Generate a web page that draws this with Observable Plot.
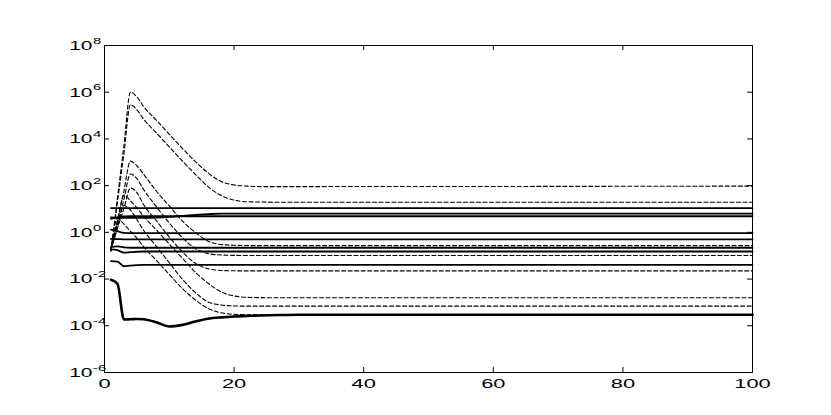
<!DOCTYPE html>
<html><head><meta charset="utf-8">
<script src="https://cdn.jsdelivr.net/npm/d3@7"></script>
<script src="https://cdn.jsdelivr.net/npm/@observablehq/plot@0.6"></script>
<style>html,body{margin:0;padding:0;background:#fff}</style>
</head><body><div id="chart"></div>
<script>
// x sample positions shared by all series
const xs = [1, 2, 3, 4, 5, 6, 8, 10, 12, 14, 16, 18, 20, 22, 24, 27, 30, 100];

// dashed series, values given as log10(y)
const dash1 = [-0.80, 1.47, 3.73, 6.00, 5.80, 5.40, 4.80, 4.20, 3.60, 3.04, 2.54, 2.18, 2.03, 1.98, 1.96, 1.96, 1.96, 1.98];
const dash2 = [-0.80, 1.29, 3.37, 5.46, 5.25, 4.86, 4.26, 3.66, 3.06, 2.49, 1.95, 1.58, 1.38, 1.31, 1.30, 1.29, 1.29, 1.29];
const dash3 = [-0.75, 0.52, 1.78, 3.05, 2.85, 2.50, 1.77, 1.13, 0.49, 0.00, -0.38, -0.52, -0.55, -0.565, -0.57, -0.57, -0.57, -0.57];
const dash4 = [-0.75, 0.33, 1.42, 2.50, 2.30, 1.85, 1.10, 0.40, -0.22, -0.69, -0.91, -0.97, -0.985, -0.99, -0.99, -0.99, -0.99, -0.99];
const dash5 = [-0.70, 0.17, 1.03, 1.90, 1.70, 1.20, 0.50, -0.20, -0.83, -1.32, -1.56, -1.63, -1.645, -1.65, -1.65, -1.65, -1.65, -1.65];
const dash6 = [-0.70, 0.45, 1.60, 1.35, 1.05, 0.70, 0.10, -0.50, -1.10, -1.70, -2.18, -2.55, -2.72, -2.78, -2.795, -2.80, -2.80, -2.80];
const dash7 = [-0.75, 0.20, 1.15, 0.95, 0.55, 0.10, -0.60, -1.30, -2.00, -2.57, -2.98, -3.11, -3.15, -3.16, -3.16, -3.16, -3.16, -3.16];
const dash8 = [-0.80, 0.60, 0.35, 0.05, -0.25, -0.60, -1.20, -1.80, -2.40, -2.89, -3.26, -3.445, -3.507, -3.525, -3.53, -3.53, -3.53, -3.53];

// solid series, values given as log10(y)
const solid1 = [1.04, 1.04, 1.04, 1.04, 1.04, 1.04, 1.04, 1.04, 1.04, 1.04, 1.04, 1.04, 1.04, 1.04, 1.04, 1.04, 1.04, 1.04];
const solid2 = [0.64, 0.62, 0.62, 0.62, 0.62, 0.62, 0.63, 0.66, 0.71, 0.75, 0.78, 0.80, 0.80, 0.80, 0.80, 0.80, 0.80, 0.80];
const solid3 = [0.58, 0.64, 0.68, 0.69, 0.69, 0.69, 0.69, 0.69, 0.69, 0.69, 0.69, 0.69, 0.69, 0.69, 0.69, 0.69, 0.69, 0.69];
const solid4 = [0.12, 0.05, -0.02, -0.03, -0.03, -0.03, -0.03, -0.03, -0.03, -0.03, -0.03, -0.03, -0.03, -0.03, -0.03, -0.03, -0.03, -0.03];
const solid5 = [-0.28, -0.29, -0.30, -0.30, -0.30, -0.30, -0.30, -0.30, -0.30, -0.30, -0.30, -0.30, -0.30, -0.30, -0.30, -0.30, -0.30, -0.30];
const solid6 = [-0.62, -0.60, -0.64, -0.66, -0.66, -0.66, -0.66, -0.66, -0.66, -0.66, -0.66, -0.66, -0.66, -0.66, -0.66, -0.66, -0.66, -0.66];
const solid7 = [-0.73, -0.76, -0.87, -0.85, -0.83, -0.82, -0.82, -0.82, -0.82, -0.82, -0.82, -0.82, -0.82, -0.82, -0.82, -0.82, -0.82, -0.82];
const solid8 = [-1.23, -1.25, -1.45, -1.42, -1.40, -1.39, -1.39, -1.39, -1.39, -1.39, -1.39, -1.39, -1.39, -1.39, -1.39, -1.39, -1.39, -1.39];
const solidLow = [-2.03, -2.20, -3.73, -3.72, -3.71, -3.72, -3.85, -4.03, -3.96, -3.82, -3.70, -3.64, -3.60, -3.58, -3.56, -3.54, -3.53, -3.53];

const xTicks = [0, 20, 40, 60, 80, 100];
const yExps = [-6, -4, -2, 0, 2, 4, 6, 8];

const dashed = [dash1, dash2, dash3, dash4, dash5, dash6, dash7, dash8];
const solid = [solid1, solid2, solid3, solid4, solid5, solid6, solid7, solid8];
const toRows = (arr, name) => xs.map((x, i) => ({x, y: Math.pow(10, arr[i]), s: name}));
const dashedData = dashed.flatMap((a, j) => toRows(a, "d" + j));
const solidData = solid.flatMap((a, j) => toRows(a, "s" + j));
const lowData = toRows(solidLow, "low");

const W = 831, H = 415, mL = 104, mR = 79, mT = 45, mB = 43;
const pw = W - mL - mR, ph = H - mT - mB;

const svg = Plot.plot({
  width: W, height: H,
  marginLeft: mL, marginRight: mR, marginTop: mT, marginBottom: mB,
  style: {fontFamily: "'Liberation Sans', Arial, Helvetica, sans-serif", background: "#fff", color: "#000"},
  x: {domain: [0, 100], axis: null},
  y: {type: "log", domain: [1e-6, 1e8], axis: null},
  marks: [
    Plot.lineY(dashedData, {x: "x", y: "y", z: "s", stroke: "#000", strokeWidth: 1.1, strokeDasharray: "4,2.5", curve: "monotone-x"}),
    Plot.lineY(solidData, {x: "x", y: "y", z: "s", stroke: "#000", strokeWidth: 1.8, curve: "monotone-x"}),
    Plot.lineY(lowData, {x: "x", y: "y", stroke: "#000", strokeWidth: 2.6, curve: "monotone-x"}),
    Plot.frame({stroke: "#000", strokeWidth: 1}),
    Plot.ruleX(xTicks, {x: d => d, insetTop: ph - 5, stroke: "#000"}),
    Plot.ruleX(xTicks, {x: d => d, insetBottom: ph - 5, stroke: "#000"}),
    Plot.ruleY(yExps, {y: d => Math.pow(10, d), insetRight: pw - 5, stroke: "#000"}),
    Plot.ruleY(yExps, {y: d => Math.pow(10, d), insetLeft: pw - 5, stroke: "#000"}),
    Plot.text(xTicks, {x: d => d, frameAnchor: "bottom", dy: 11, lineAnchor: "middle", text: d => String(d), fontSize: 12.5, fill: "#000"}),
    Plot.text(yExps, {y: d => Math.pow(10, d), frameAnchor: "left", dx: -12, dy: 0.5, textAnchor: "end", lineAnchor: "middle", text: () => "10", fontSize: 12, fill: "#000"}),
    Plot.text(yExps, {y: d => Math.pow(10, d), frameAnchor: "left", dx: -11.5, dy: -4.5, textAnchor: "start", lineAnchor: "middle", text: d => String(d), fontSize: 8.5, fill: "#000"})
  ]
});
// horizontally stretched lettering as in the reference
svg.querySelectorAll("text").forEach(t => {
  const tr = t.getAttribute("transform") || "";
  t.setAttribute("transform", tr + " scale(1.75,1)");
});
document.getElementById("chart").appendChild(svg);
</script>
</body></html>
